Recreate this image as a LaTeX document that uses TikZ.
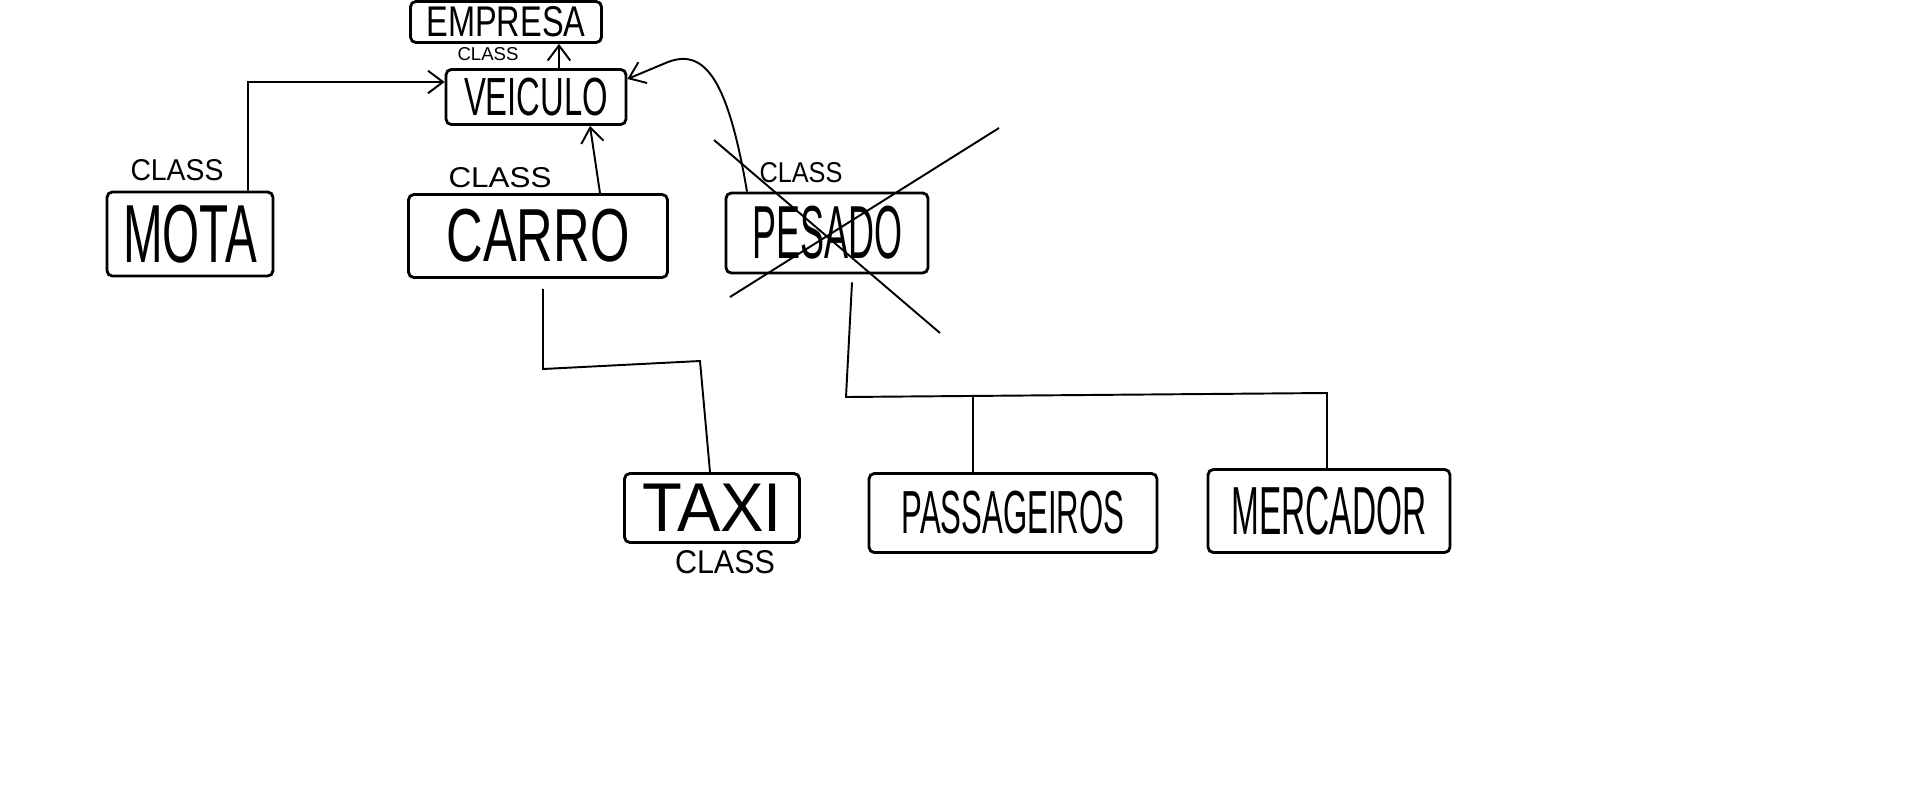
\documentclass[tikz,border=0pt]{standalone}
\usepackage{fontspec}
\setmainfont{Liberation Sans}
\usepackage{graphicx}
\usetikzlibrary{arrows.meta}

\tikzset{
  box/.style={draw, line width=1.6pt, rounded corners=3pt, inner sep=0pt},
  link/.style={line width=1.1pt},
  tag/.style={inner sep=0pt},
  >={Straight Barb[length=3mm,width=4.5mm]}
}
% stretched capitals, roughly like hand lettering
\newcommand{\word}[3]{\resizebox{#2}{#3}{#1}}

\begin{document}
\begin{tikzpicture}[x=0.02cm,y=-0.02cm]
\useasboundingbox[fill=white] (0,0) rectangle (1914,798);

% classes
\node[box, minimum width=3.82cm, minimum height=0.82cm] (empresa) at (506,22) {\word{EMPRESA}{3.18cm}{0.6cm}};
\node[box, minimum width=3.6cm, minimum height=1.1cm] (veiculo) at (536,97) {\word{VEICULO}{2.88cm}{0.75cm}};
\node[box, minimum width=3.32cm, minimum height=1.68cm] (mota) at (190,234) {\word{MOTA}{2.68cm}{1.15cm}};
\node[box, minimum width=5.18cm, minimum height=1.66cm] (carro) at (538,236) {\word{CARRO}{3.66cm}{1.05cm}};
\node[box, minimum width=4.04cm, minimum height=1.6cm] (pesado) at (827,233) {\word{PESADO}{3.0cm}{1.05cm}};
\node[box, minimum width=3.5cm, minimum height=1.38cm] (taxi) at (712,508) {\word{TAXI}{2.8cm}{0.95cm}};
\node[box, minimum width=5.76cm, minimum height=1.58cm] (passageiros) at (1013,513) {\word{PASSAGEIROS}{4.46cm}{0.85cm}};
\node[box, minimum width=4.84cm, minimum height=1.66cm] (mercador) at (1329,511) {\word{MERCADOR}{3.9cm}{0.95cm}};

% class tags
\node[tag] (tagempresa) at (488,54) {\word{CLASS}{1.22cm}{0.26cm}};
\node[tag] (tagmota) at (177,170) {\word{CLASS}{1.86cm}{0.42cm}};
\node[tag] (tagcarro) at (500,178) {\word{CLASS}{2.06cm}{0.4cm}};
\node[tag] (tagpesado) at (801,173) {\word{CLASS}{1.66cm}{0.4cm}};
\node[tag] (tagtaxi) at (725,562) {\word{CLASS}{2cm}{0.46cm}};

% inheritance arrows
\draw[link,->] ([xshift=0.46cm]veiculo.north) -- ([xshift=1.06cm]empresa.south);
\draw[link,->] ([xshift=1.16cm]mota.north) -- (248,82) -- ([yshift=0.3cm]veiculo.west);
\draw[link,->] ([xshift=1.24cm]carro.north) -- ([xshift=1.08cm]veiculo.south);
\draw[link,->] ([xshift=-1.6cm]pesado.north) .. controls (728,80) and (705,48) .. (668,62) -- ([yshift=0.36cm]veiculo.east);

% subclasses
\draw[link] ([xshift=0.1cm,yshift=-0.2cm]carro.south) -- (543,369) -- (700,361) -- ([xshift=-0.04cm]taxi.north);
\draw[link] ([xshift=0.5cm,yshift=-0.16cm]pesado.south) -- (846,397) -- (1327,393) -- ([xshift=-0.04cm]mercador.north);
\draw[link] (973,397) -- ([xshift=-0.8cm]passageiros.north);

% pesado crossed out
\draw[link] (714,140) -- (940,333);
\draw[link] (730,297) -- (999,128);
\end{tikzpicture}
\end{document}
